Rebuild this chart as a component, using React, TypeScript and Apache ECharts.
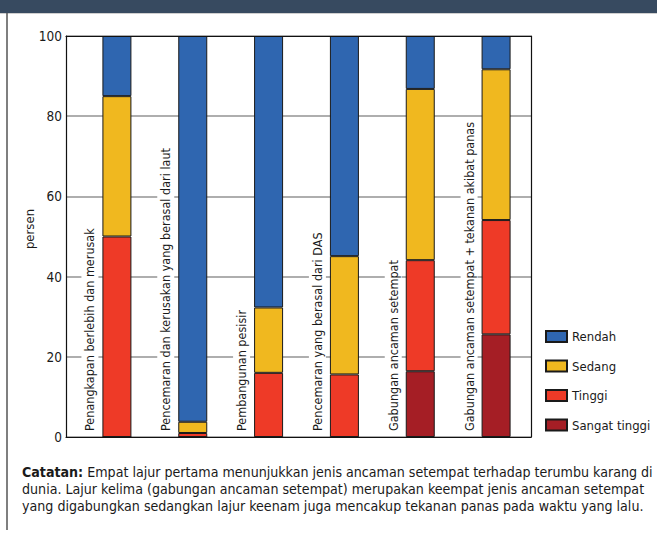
import React, { useEffect, useRef } from "react";
import * as echarts from "echarts";

const categories = [
  "Penangkapan berlebih dan merusak",
  "Pencemaran dan kerusakan yang berasal dari laut",
  "Pembangunan pesisir",
  "Pencemaran yang berasal dari DAS",
  "Gabungan ancaman setempat",
  "Gabungan ancaman setempat + tekanan akibat panas",
];
const sangatTinggi = [0, 0, 0, 0, 16.4, 25.6];
const tinggi = [50, 1, 16, 15.6, 27.7, 28.5];
const sedang = [35, 2.8, 16.3, 29.5, 42.7, 37.6];
const rendah = [15, 96.2, 67.7, 54.9, 13.2, 8.3];
const yTicks = [0, 20, 40, 60, 80, 100];
const yAxisTitle = "persen";
const legendNames = ["Rendah", "Sedang", "Tinggi", "Sangat tinggi"];
const noteLines = [
  "{b|Catatan:} Empat lajur pertama menunjukkan jenis ancaman setempat terhadap terumbu karang di",
  "dunia. Lajur kelima (gabungan ancaman setempat) merupakan keempat jenis ancaman setempat",
  "yang digabungkan sedangkan lajur keenam juga mencakup tekanan panas pada waktu yang lalu.",
];

const FONT = "'DejaVu Sans Condensed', 'DejaVu Sans', sans-serif";
const COLORS: Record<string, string> = {
  Rendah: "#2f66b0",
  Sedang: "#f0b81f",
  Tinggi: "#ee3a27",
  "Sangat tinggi": "#a51e25",
};

export default function App() {
  const ref = useRef<HTMLDivElement>(null);
  useEffect(() => {
    if (!ref.current) return;
    const chart = echarts.init(ref.current, null, { renderer: "svg" });
    const mkSeries = (name: string, data: number[]) => ({
      name,
      type: "bar",
      stack: "all",
      xAxisIndex: 1,
      yAxisIndex: 1,
      barWidth: 29,
      data,
      z: 4,
      itemStyle: { color: COLORS[name], borderColor: "#1a1a1a", borderWidth: 1 },
    });
    const frameTop = 36;
    const frameH = 401;
    const frameAxis = (extra: any) => ({
      type: "value",
      min: 0,
      max: 1,
      axisLine: { show: true, onZero: false, lineStyle: { color: "#111", width: 1.2 } },
      axisTick: { show: false },
      axisLabel: { show: false },
      splitLine: { show: false },
      z: 6,
      ...extra,
    });
    chart.setOption({
      animation: false,
      backgroundColor: "#ffffff",
      textStyle: { fontFamily: FONT },
      grid: [
        { left: 66, top: frameTop, width: 465, height: frameH },
        { left: 79, top: frameTop, width: 455, height: frameH },
        { left: 52, top: frameTop, width: 455, height: frameH },
      ],
      xAxis: [
        frameAxis({ gridIndex: 0, position: "bottom" }),
        {
          gridIndex: 1,
          type: "category",
          data: categories,
          show: false,
        },
        {
          gridIndex: 2,
          type: "category",
          data: categories,
          position: "bottom",
          axisLine: { show: false },
          axisTick: { show: false },
          splitLine: { show: false },
          z: 5,
          axisLabel: {
            inside: true,
            rotate: 90,
            interval: 0,
            margin: 4,
            fontSize: 12.5,
            fontFamily: FONT,
            color: "#1a1a1a",
            backgroundColor: "#ffffff",
            padding: [2, 2],
          },
        },
        frameAxis({ gridIndex: 0, position: "top" }),
      ],
      yAxis: [
        {
          gridIndex: 0,
          type: "value",
          min: yTicks[0],
          max: yTicks[yTicks.length - 1],
          interval: 20,
          axisLine: { show: true, onZero: false, lineStyle: { color: "#111", width: 1.2 } },
          axisTick: { show: false },
          axisLabel: { fontSize: 13.5, fontFamily: FONT, color: "#1a1a1a", margin: 4 },
          splitLine: { show: true, lineStyle: { color: "#939393", width: 1.5 } },
          z: 1,
        },
        { gridIndex: 1, type: "value", min: 0, max: 100, show: false },
        { gridIndex: 2, type: "value", min: 0, max: 100, show: false },
        frameAxis({ gridIndex: 0, position: "right", max: 100 }),
      ],
      legend: {
        orient: "vertical",
        left: 545,
        top: 330,
        padding: 0,
        itemWidth: 21,
        itemHeight: 11,
        itemGap: 16.5,
        icon: "rect",
        data: legendNames,
        textStyle: { fontSize: 13, fontFamily: FONT, color: "#1a1a1a" },
        selectedMode: false,
      },
      series: [
        mkSeries("Sangat tinggi", sangatTinggi),
        mkSeries("Tinggi", tinggi),
        mkSeries("Sedang", sedang),
        mkSeries("Rendah", rendah),
      ],
      graphic: [
        { type: "rect", left: 0, top: 0, shape: { width: 657, height: 13 }, style: { fill: "#374a60" } },
        { type: "line", shape: { x1: 0, y1: 13.5, x2: 657, y2: 13.5 }, style: { stroke: "#cfcfcf", lineWidth: 1 } },
        { type: "line", shape: { x1: 7, y1: 13, x2: 7, y2: 530 }, style: { stroke: "#555", lineWidth: 1.5 } },
        {
          type: "text",
          x: 29,
          y: 229,
          rotation: Math.PI / 2,
          style: {
            text: yAxisTitle,
            fontSize: 13,
            fontFamily: FONT,
            fill: "#1a1a1a",
            align: "center",
            verticalAlign: "middle",
          },
        },
        ...noteLines.map((t, i) => ({
          type: "text",
          left: 22,
          top: 465 + i * 16.8,
          style: {
            text: t,
            fontSize: 14.1,
            fontFamily: FONT,
            fill: "#1a1a1a",
            rich: { b: { fontSize: 14.1, fontFamily: FONT, fontWeight: "bold", fill: "#1a1a1a" } },
          },
        })),
      ],
    });
    return () => chart.dispose();
  }, []);
  return (
    <div
      ref={ref}
      style={{ position: "fixed", left: 0, top: 0, width: 657, height: 535 }}
    />
  );
}
